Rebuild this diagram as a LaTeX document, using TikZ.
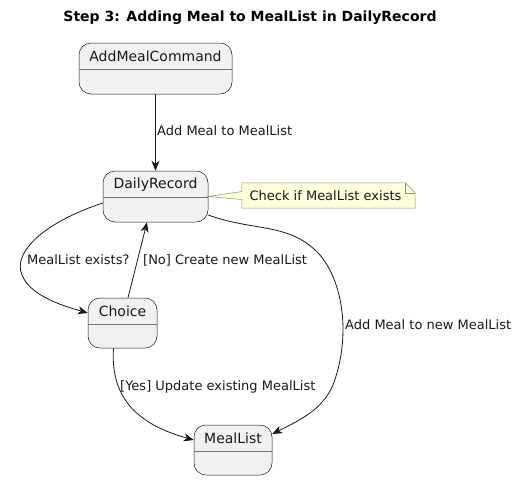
\documentclass[tikz,border=0pt]{standalone}
\usepackage{fontspec}
\setmainfont{DejaVu Sans}
\usetikzlibrary{arrows.meta,calc}
\definecolor{stfill}{HTML}{F1F1F1}
\definecolor{ln}{HTML}{181818}
\definecolor{notefill}{HTML}{FEFFDD}
\definecolor{noteline}{HTML}{8F8F70}
\begin{document}
\begin{tikzpicture}[x=1pt,y=-1pt,
  state/.style={draw=ln,fill=stfill,rounded corners=12pt,line width=0.5pt,inner sep=0pt},
  sname/.style={font=\fontsize{14}{16}\selectfont,text=ln,inner sep=0pt},
  elabel/.style={font=\fontsize{13}{15}\selectfont,text=ln,inner sep=0pt,anchor=west},
  arr/.style={draw=ln,line width=0.8pt,-{Stealth[length=10pt,width=8pt,inset=3pt]}},
  divider/.style={draw=ln!60,line width=0.5pt}]
\useasboundingbox (0,0) rectangle (518,480);
% title
\node[font=\bfseries\fontsize{14}{16}\selectfont,inner sep=0pt] (title) at (250,18) {Step 3: Adding Meal to MealList in DailyRecord};
% states
\node[state,minimum width=153,minimum height=51] (amc) at (155.5,68.5) {};
\node[sname] (amct) at ($(amc.north)+(0,13.5)$) {AddMealCommand};
\draw[divider] ($(amc.north west)+(0,26)$) -- ($(amc.north east)+(0,26)$);

\node[state,minimum width=105,minimum height=51] (dr) at (155.5,196.5) {};
\node[sname] (drt) at ($(dr.north)+(0,13.5)$) {DailyRecord};
\draw[divider] ($(dr.north west)+(0,26)$) -- ($(dr.north east)+(0,26)$);

\node[state,minimum width=69,minimum height=50] (ch) at (122.5,323) {};
\node[sname] (cht) at ($(ch.north)+(0,13.5)$) {Choice};
\draw[divider] ($(ch.north west)+(0,26)$) -- ($(ch.north east)+(0,26)$);

\node[state,minimum width=78,minimum height=50] (ml) at (233,450) {};
\node[sname] (mlt) at ($(ml.north)+(0,13.5)$) {MealList};
\draw[divider] ($(ml.north west)+(0,26)$) -- ($(ml.north east)+(0,26)$);

% note
\node[minimum width=173,minimum height=25,inner sep=0pt] (nt) at (328.5,195.5) {};
\fill[notefill,draw=noteline,line width=0.5pt]
  ($(dr.east)+(0,0)$) -- ($(nt.west)+(0,-4)$) -- (nt.north west) -- ($(nt.north east)+(-10,0)$)
  -- ($(nt.north east)+(0,10)$) -- (nt.south east) -- (nt.south west) -- ($(nt.west)+(0,4)$) -- cycle;
\draw[noteline,line width=0.5pt] ($(nt.north east)+(-10,0)$) -- ($(nt.north east)+(-10,10)$) -- ($(nt.north east)+(0,10)$);
\node[font=\fontsize{13}{15}\selectfont,text=ln,inner sep=0pt] (ntt) at ($(nt.center)+(-3,0)$) {Check if MealList exists};

% edges
\draw[arr] (amc.south) -- (dr.north);
\node[elabel] (l1) at (157,131) {Add Meal to MealList};

\draw[arr] ($(dr.west)+(0,6.5)$) .. controls (45,222) and (12,252) .. (22,275) .. controls (30,295) and (60,305) .. ($(ch.west)+(0,-10)$);
\node[elabel] (l2) at (27,260) {MealList exists?};

\draw[arr] ($(ch.north)+(5.5,0)$) -- ($(dr.south)+(-8.5,0)$);
\node[elabel] (l3) at (143,260) {[No] Create new MealList};

\draw[arr] ($(ch.south)+(-9,0)$) .. controls (110,400) and (140,425) .. ($(ml.west)+(0,-10)$);
\node[elabel] (l4) at (120,387) {[Yes] Update existing MealList};

\draw[arr] ($(dr.east)+(0,18.5)$) .. controls (255,232) and (290,222) .. (320,255) .. controls (345,285) and (350,340) .. (333,385) .. controls (322,410) and (300,420) .. ($(ml.east)+(0,-16)$);
\node[elabel] (l5) at (345,325) {Add Meal to new MealList};
\end{tikzpicture}
\end{document}
